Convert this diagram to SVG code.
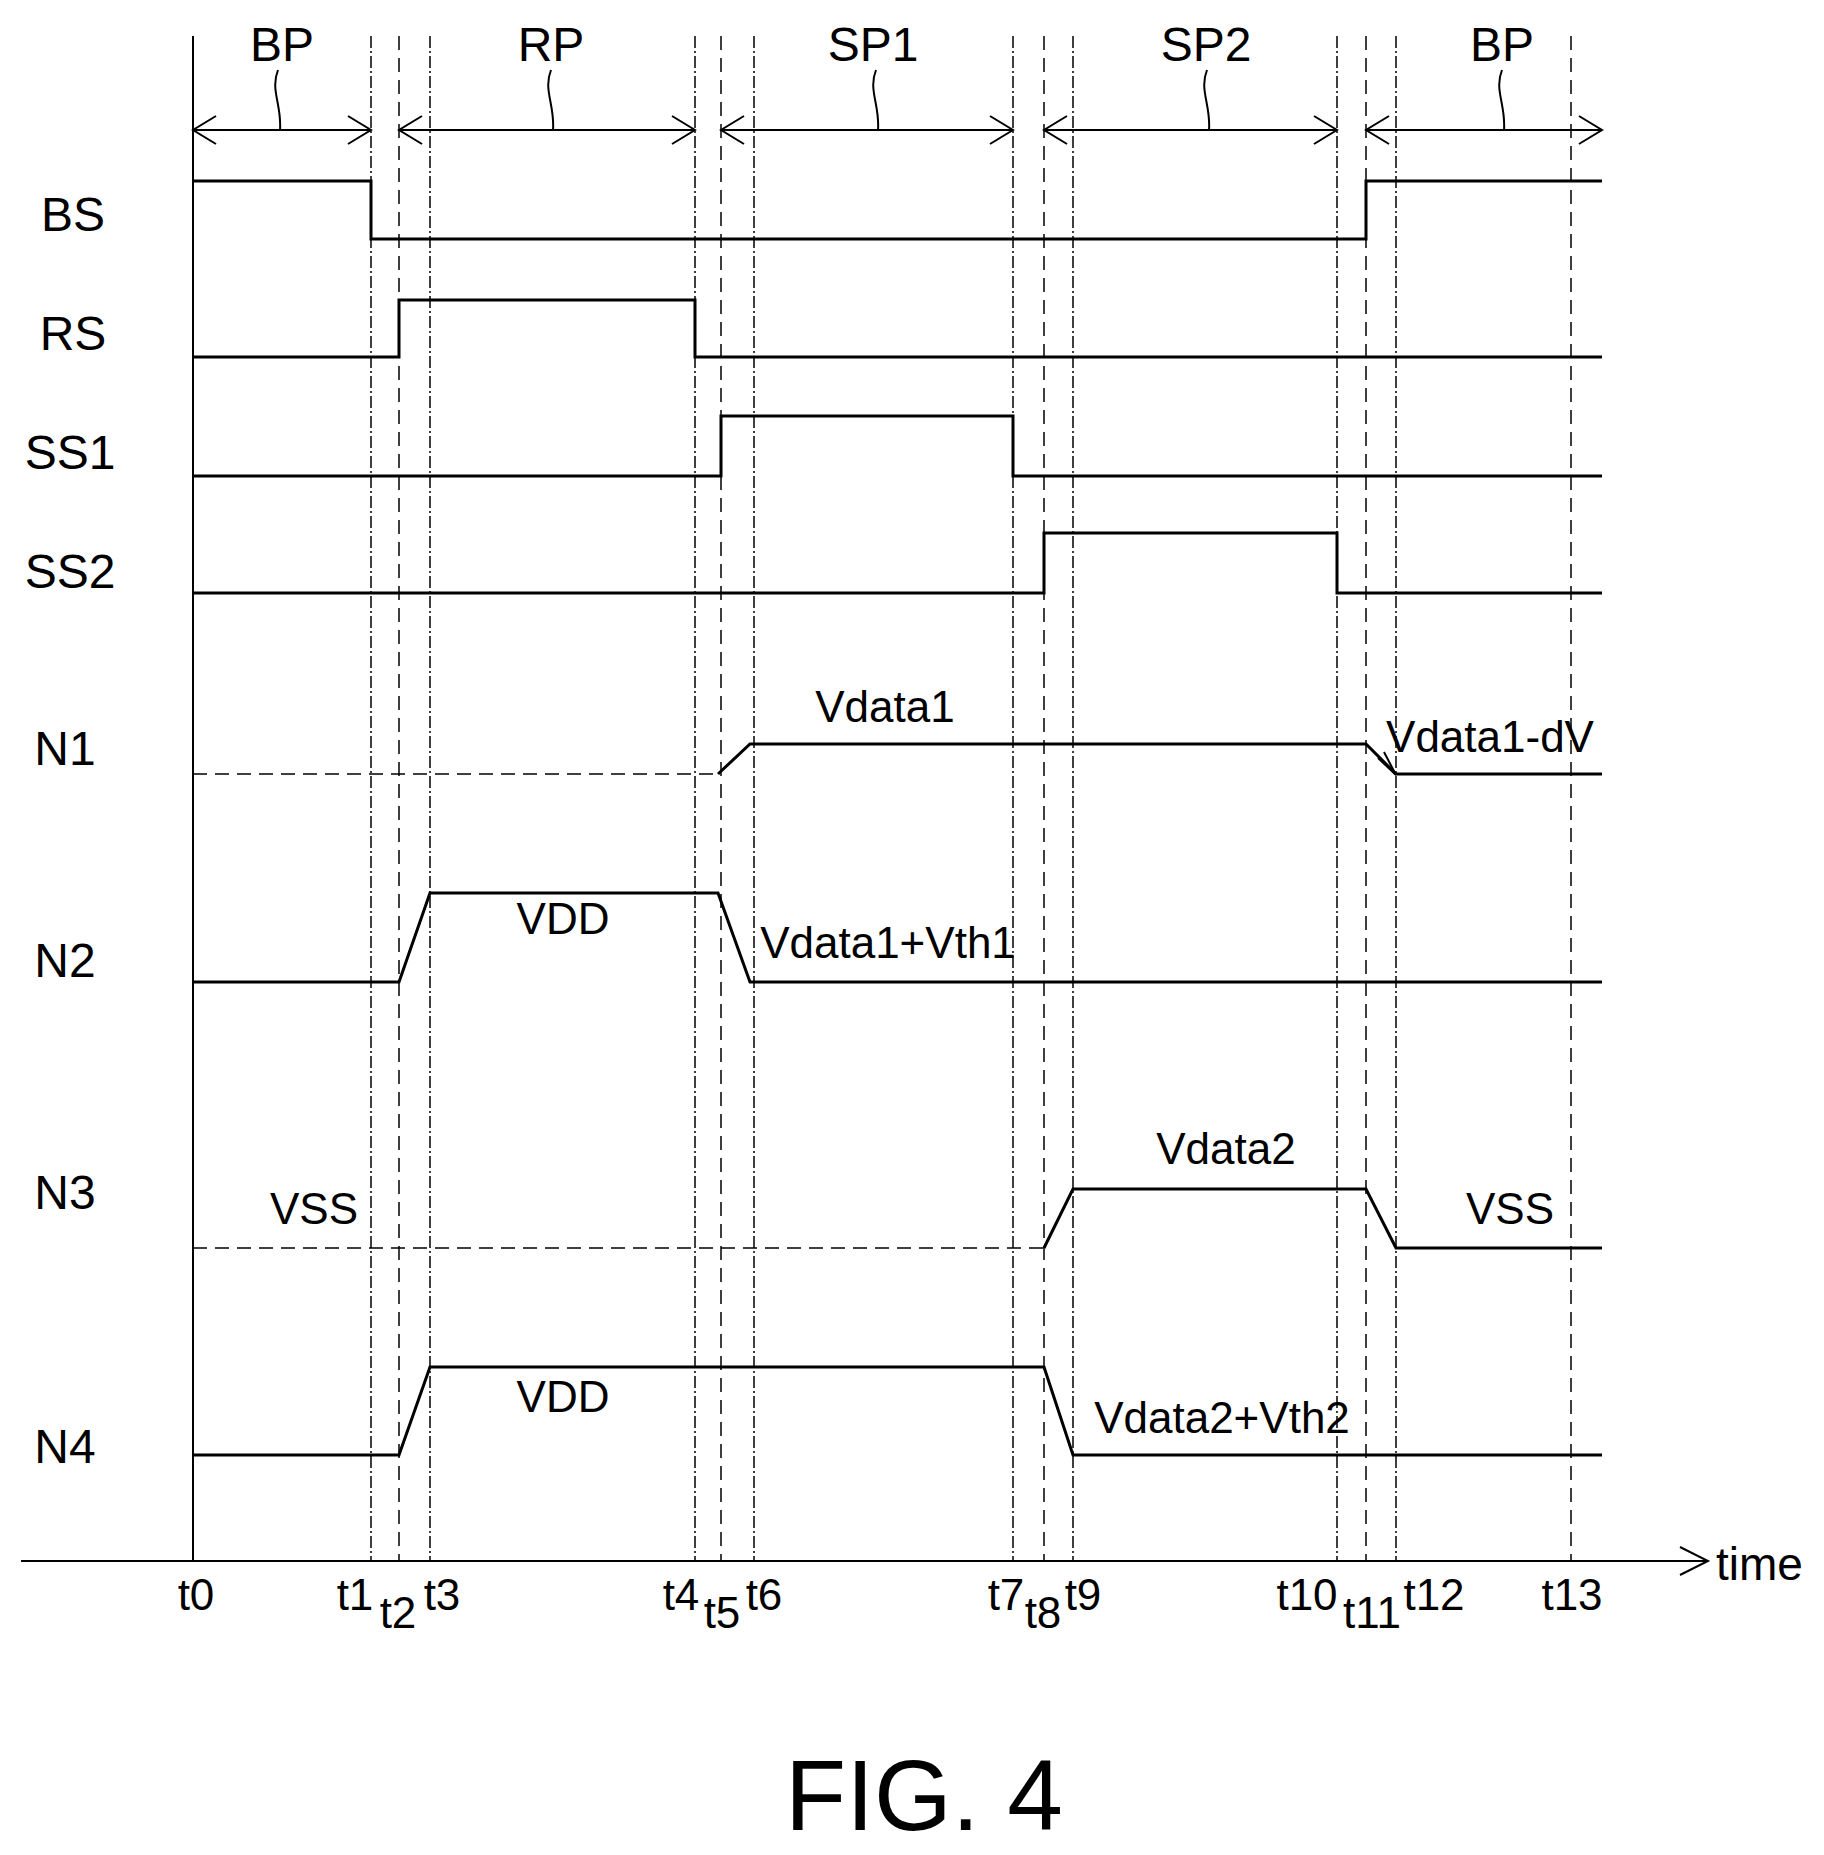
<svg xmlns="http://www.w3.org/2000/svg" width="1824" height="1855" viewBox="0 0 1824 1855">
<style>
text{font-family:"Liberation Sans Narrow","Liberation Sans",Arial,sans-serif;fill:#000}
.lb{font-size:48px;text-anchor:middle}
.sm{font-size:44px;text-anchor:middle}
.sig{fill:none;stroke:#000;stroke-width:3}
.dash{fill:none;stroke:#000;stroke-width:1.5;stroke-dasharray:14 8}
.dd{fill:none;stroke:#000;stroke-width:1.5;stroke-dasharray:12 3 2 3}
.th{fill:none;stroke:#000;stroke-width:2}
</style>
<rect width="1824" height="1855" fill="#fff"/>
<g id="guides">
<path class="dd" d="M371 36V1561M695 36V1561M1013 36V1561M1337 36V1561"/>
<path class="dash" d="M399 36V1561M721 36V1561M1044 36V1561M1366 36V1561M1571 36V1561"/>
<path class="dd" d="M430 36V1561M754 36V1561M1073 36V1561M1396 36V1561"/>
</g>
<g id="axes">
<path class="th" d="M193 36V1561" stroke-width="2.5"/>
<path class="th" d="M21 1561H1706" stroke-width="3"/>
<path class="th" d="M1680 1547L1708 1561L1680 1575" stroke-width="2.5"/>
<text x="1716" y="1580" font-size="46">time</text>
</g>
<g id="periods">
<path class="th" d="M193 130H371M399 130H695M721 130H1013M1044 130H1337M1366 130H1602"/>
<path class="th" d="M216 116L193 130L216 144M348 116L371 130L348 144M422 116L399 130L422 144M672 116L695 130L672 144M744 116L721 130L744 144M990 116L1013 130L990 144M1067 116L1044 130L1067 144M1314 116L1337 130L1314 144M1389 116L1366 130L1389 144M1579 116L1602 130L1579 144"/>
<path class="th" stroke-width="1.2" d="M278 70C270 90 282 105 280 130M551 70C543 90 555 105 553 130M876 70C868 90 880 105 878 130M1207 70C1199 90 1211 105 1209 130M1502 70C1494 90 1506 105 1504 130"/>
<text class="lb" x="282" y="61">BP</text>
<text class="lb" x="551" y="61">RP</text>
<text class="lb" x="873" y="61">SP1</text>
<text class="lb" x="1206" y="61">SP2</text>
<text class="lb" x="1502" y="61">BP</text>
</g>
<g id="BS"><text class="lb" x="73" y="231">BS</text><path class="sig" d="M193 181H371V239H1366V181H1602"/></g>
<g id="RS"><text class="lb" x="73" y="350">RS</text><path class="sig" d="M193 357H399V300H695V357H1602"/></g>
<g id="SS1"><text class="lb" x="70" y="469">SS1</text><path class="sig" d="M193 476H721V416H1013V476H1602"/></g>
<g id="SS2"><text class="lb" x="70" y="588">SS2</text><path class="sig" d="M193 593H1044V533H1337V593H1602"/></g>
<g id="N1"><text class="lb" x="65" y="765">N1</text>
<path class="dash" stroke-width="2" d="M193 774H718"/>
<path class="sig" d="M718 774L750 744H1366L1396 774H1602"/>
<path class="th" d="M1396 775L1378 758M1396 775L1384 752"/>
<text class="sm" x="885" y="722">Vdata1</text>
<text class="sm" x="1490" y="752">Vdata1-dV</text></g>
<g id="N2"><text class="lb" x="65" y="977">N2</text>
<path class="sig" d="M193 982H399L430 893H718L750 982H1602"/>
<text class="sm" x="563" y="934">VDD</text>
<text class="sm" x="888" y="958">Vdata1+Vth1</text></g>
<g id="N3"><text class="lb" x="65" y="1209">N3</text>
<path class="dash" stroke-width="2" d="M193 1248H1044"/>
<path class="sig" d="M1044 1248L1073 1189H1366L1396 1248H1602"/>
<text class="sm" x="1226" y="1164">Vdata2</text>
<text class="sm" x="314" y="1224">VSS</text>
<text class="sm" x="1510" y="1224">VSS</text></g>
<g id="N4"><text class="lb" x="65" y="1463">N4</text>
<path class="sig" d="M193 1455H399L430 1367H1044L1073 1455H1602"/>
<text class="sm" x="563" y="1412">VDD</text>
<text class="sm" x="1222" y="1433">Vdata2+Vth2</text></g>
<g id="ticks">
<text class="sm" x="196" y="1610">t0</text>
<text class="sm" x="355" y="1610">t1</text>
<text class="sm" x="398" y="1628">t2</text>
<text class="sm" x="442" y="1610">t3</text>
<text class="sm" x="681" y="1610">t4</text>
<text class="sm" x="722" y="1628">t5</text>
<text class="sm" x="764" y="1610">t6</text>
<text class="sm" x="1006" y="1610">t7</text>
<text class="sm" x="1043" y="1628">t8</text>
<text class="sm" x="1083" y="1610">t9</text>
<text class="sm" x="1307" y="1610">t10</text>
<text class="sm" x="1372" y="1628">t11</text>
<text class="sm" x="1434" y="1610">t12</text>
<text class="sm" x="1572" y="1610">t13</text>
</g>
<text x="924" y="1830" font-family="Liberation Mono,monospace" font-size="100" text-anchor="middle">FIG. 4</text>
</svg>
